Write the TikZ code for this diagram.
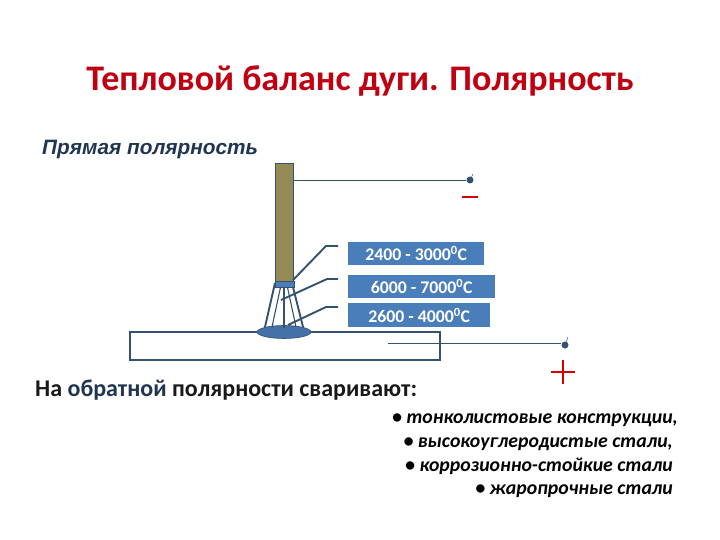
\documentclass[tikz,border=0pt]{standalone}
\usepackage{fontspec}
\setmainfont{Carlito}
\newfontfamily\headfont{Liberation Sans}
\usepackage{tikz}
\usetikzlibrary{shapes.geometric}
\definecolor{linecol}{HTML}{34526F}
\definecolor{boxcol}{HTML}{4A7EBB}
\definecolor{rodcol}{HTML}{948A54}
\definecolor{titlecol}{HTML}{C00010}
\definecolor{subcol}{HTML}{1F3552}
\tikzset{
  tempbox/.style={fill=boxcol,text=white,font=\bfseries\fontsize{17.8}{17.8}\selectfont,inner sep=0pt,anchor=north west},
  leader/.style={draw=linecol,line width=1.9pt},
  wire/.style={draw=linecol,line width=0.9pt},
  rayline/.style={draw=linecol,line width=1.1pt},
  clamp/.style={circle,fill=linecol,inner sep=0pt,minimum size=7pt},
  listline/.style={anchor=base east,font=\bfseries\itshape\fontsize{19.8}{19.8}\selectfont,inner sep=0pt},
}
\begin{document}
\begin{tikzpicture}[x=1pt,y=-1pt]
\useasboundingbox (0,0) rectangle (720,540);

% heading
\node[text=titlecol,inner sep=0pt,font=\bfseries\fontsize{36}{36}\selectfont] (title) at (360,81) {Тепловой баланс дуги. Полярность};
\node[text=subcol,inner sep=0pt,anchor=west,font=\headfont\bfseries\itshape\fontsize{20.8}{20.8}\selectfont] (direct) at (42,150) {Прямая полярность};

% workpiece and arc
\node[draw=linecol,line width=1.7pt,inner sep=0pt,minimum width=310pt,minimum height=28pt,anchor=north west] (plate) at (129,331) {};
\node[ellipse,fill=boxcol!90!black,draw=linecol,line width=0.6pt,inner sep=0pt,minimum width=54pt,minimum height=13pt] (spot) at (284,332) {};
\path (275,283) coordinate(a1) (292,283) coordinate(a2)
(265,327) coordinate(b1) (303,327) coordinate(b2)
(281,285) coordinate(a3) (287,285) coordinate(a4)
(272,327) coordinate(b3) (296,327) coordinate(b4)
(284,285) coordinate(a5) (284,328) coordinate(b5);
\draw[rayline,line width=1.9pt] (a1) -- (b1);
\draw[rayline,line width=1.9pt] (a2) -- (b2);
\draw[rayline] (a3) -- (b3);
\draw[rayline] (a4) -- (b4);
\draw[rayline] (a5) -- (b5);

% electrode
\node[fill=boxcol,draw=linecol,line width=0.5pt,inner sep=0pt,minimum width=19pt,minimum height=6pt,anchor=north west] (tip) at (275,281) {};
\node[fill=rodcol,draw=linecol,line width=1.4pt,inner sep=0pt,minimum width=18pt,minimum height=118pt,anchor=north west] (rod) at (275,163) {};

% temperatures
\node[tempbox,minimum width=136pt,minimum height=23pt] (temp1) at (348,242) {2400 - 3000\textsuperscript{0}C};
\node[tempbox,minimum width=147pt,minimum height=23pt] (temp2) at (348,275) {6000 - 7000\textsuperscript{0}C};
\node[tempbox,minimum width=142pt,minimum height=24pt] (temp3) at (348,303) {2600 - 4000\textsuperscript{0}C};

\path (293,280) coordinate(l1) (326,246) coordinate(k1) (338,246) coordinate(e1)
(281,300) coordinate(l2) (327,279) coordinate(k2) (338,279) coordinate(e2)
(288,325) coordinate(l3) (326,307) coordinate(k3) (338,307) coordinate(e3);
\draw[leader] (l1) -- (k1) -- (e1);
\draw[leader] (l2) -- (k2) -- (e2);
\draw[leader] (l3) -- (k3) -- (e3);

% power leads
\node[clamp] (minusclamp) at (470,180) {};
\node[clamp] (plusclamp) at (565,345) {};
\coordinate (platein) at (388,343);
\draw[wire] (rod.east |- minusclamp) -- (minusclamp);
\draw[wire] (platein) -- (plusclamp.west |- platein);
\draw[wire,line width=0.5pt] (minusclamp) -- (473,174);
\draw[wire,line width=0.5pt] (plusclamp) -- (568,337);

% poles
\coordinate (m1) at (462,197); \coordinate (m2) at (478,197);
\draw[red!85!black,line width=1.6pt] (m1) -- (m2);
\coordinate (p1) at (551,372); \coordinate (p2) at (575,372);
\coordinate (p3) at (563,360); \coordinate (p4) at (563,384);
\draw[red!85!black,line width=1.8pt] (p1) -- (p2);
\draw[red!85!black,line width=1.8pt] (p3) -- (p4);

% reverse polarity
\node[anchor=west,inner sep=0pt,text=black!90,font=\bfseries\fontsize{24}{24}\selectfont] (reverse) at (35,390) {На \textcolor{subcol}{обратной} полярности сваривают:};
\node[listline] (item1) at (678,423) {• тонколистовые конструкции,};
\node[listline] (item2) at (673,447) {• высокоуглеродистые стали,};
\node[listline] (item3) at (673,471) {• коррозионно-стойкие стали};
\node[listline] (item4) at (673,494) {• жаропрочные стали};
\end{tikzpicture}
\end{document}
